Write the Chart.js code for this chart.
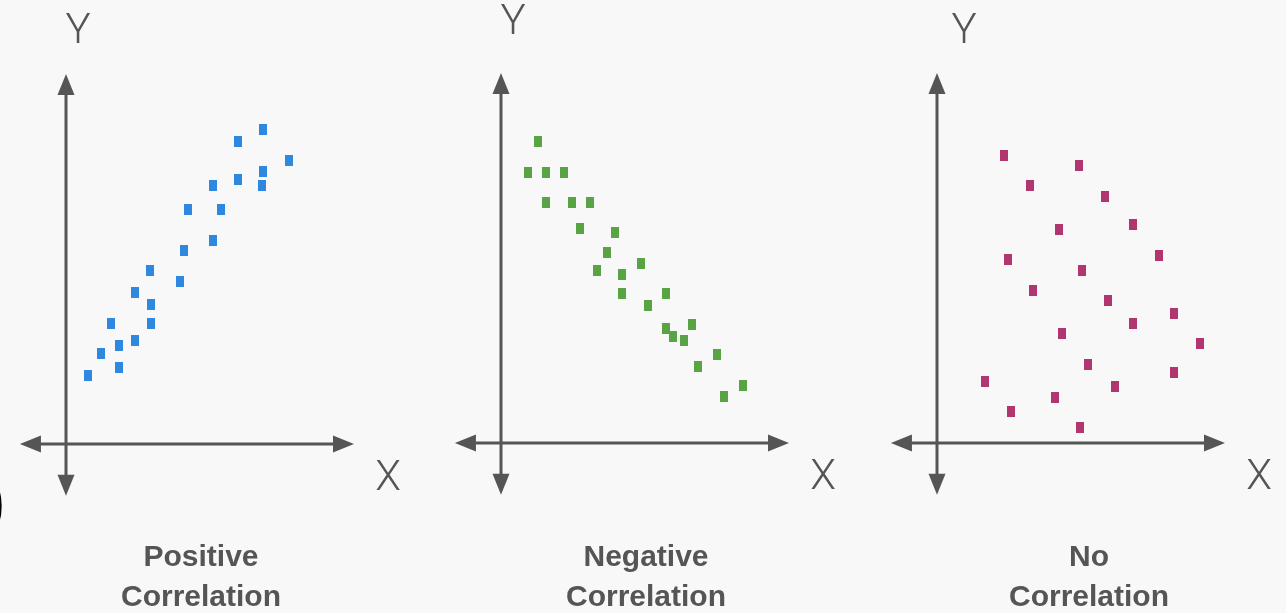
<!DOCTYPE html>
<html>
<head>
<meta charset="utf-8">
<title>Scatter Plots: Types of Correlation</title>
<script src="https://cdn.jsdelivr.net/npm/chart.js@4.4.1/dist/chart.umd.min.js"></script>
<style>
  html, body { margin: 0; padding: 0; background: #f8f8f8; }
  body { width: 1286px; height: 613px; position: relative; overflow: hidden; }
  canvas.panel { position: absolute; left: 0; top: 0; }
  .edge-mark {
    position: absolute; left: -17px; top: 462px; line-height: 1;
    font: 700 66px "Liberation Sans", Arial, sans-serif; color: #000;
  }
</style>
</head>
<body>
<span class="edge-mark">)</span>
<canvas id="c1" class="panel" width="1286" height="613"></canvas>
<canvas id="c2" class="panel" width="1286" height="613"></canvas>
<canvas id="c3" class="panel" width="1286" height="613"></canvas>
<script>
// Positive correlation
const positiveX = [6.85, 5.96, 7.73, 6.85, 5.96, 6.80, 5.11, 4.25, 5.38, 5.11, 4.10,
                   2.92, 3.96, 2.41, 2.94, 1.55, 2.94, 2.41, 1.83, 1.22, 1.83, 0.77];
const positiveY = [8.49, 8.17, 7.66, 7.36, 7.14, 6.98, 6.98, 6.34, 6.34, 5.51, 5.22,
                   4.69, 4.39, 4.09, 3.78, 3.25, 3.25, 2.81, 2.66, 2.44, 2.06, 1.84];

// Negative correlation
const negativeX = [1.30, 0.95, 1.57, 2.19, 1.57, 2.47, 3.08, 2.73, 3.96, 3.69, 4.85, 3.34,
                   4.20, 4.20, 5.73, 5.09, 5.73, 6.62, 5.98, 6.35, 7.49, 6.85, 8.39, 7.74];
const negativeY = [8.16, 7.32, 7.32, 7.32, 6.51, 6.51, 6.51, 5.79, 5.68, 5.15, 4.86, 4.67,
                   4.55, 4.03, 4.03, 3.72, 3.10, 3.21, 2.89, 2.78, 2.38, 2.08, 1.55, 1.25];

// No correlation
const noneX = [2.34, 4.93, 3.22, 5.82, 4.24, 6.82, 7.70, 2.45, 5.05, 3.33, 5.94,
               8.24, 6.82, 4.35, 9.12, 5.23, 8.24, 1.68, 6.19, 4.09, 2.56, 4.97];
const noneY = [7.78, 7.49, 6.95, 6.66, 5.78, 5.90, 5.08, 4.96, 4.67, 4.13, 3.84,
               3.51, 3.22, 2.95, 2.68, 2.13, 1.91, 1.67, 1.54, 1.24, 0.85, 0.42];

const panelTitles = [["Positive", "Correlation"], ["Negative", "Correlation"], ["No", "Correlation"]];
const axisNames = { x: "X", y: "Y" };

// Axis extents in data units (arrow tip to arrow tip)
const X_MIN = -1.6, X_MAX = 10, Y_MIN = -1.4, Y_MAX = 10;
const PX_PER_X = 28.8, PX_PER_Y = 37;
const AXIS_COLOR = "#555555";

// Small upright rectangle used as the marker
function marker(color) {
  const c = document.createElement("canvas");
  c.width = 8; c.height = 11;
  const g = c.getContext("2d");
  g.fillStyle = color;
  g.fillRect(0, 0, 8, 11);
  return c;
}

function arrowHead(ctx, x, y, dir) {
  // dir: unit vector the arrow points toward
  const len = 21, half = 8.5;
  const bx = x - dir[0] * len, by = y - dir[1] * len;
  const px = -dir[1], py = dir[0];
  ctx.beginPath();
  ctx.moveTo(x, y);
  ctx.lineTo(bx + px * half, by + py * half);
  ctx.lineTo(bx - px * half, by - py * half);
  ctx.closePath();
  ctx.fill();
}

// Draws the cross of arrows through the origin, the axis letters and the caption
const crossAxes = {
  id: "crossAxes",
  beforeDatasetsDraw(chart, args, opts) {
    const { ctx } = chart;
    const xs = chart.scales.x, ys = chart.scales.y;
    const ox = xs.getPixelForValue(0), oy = ys.getPixelForValue(0);
    const left = xs.getPixelForValue(X_MIN), right = xs.getPixelForValue(X_MAX);
    const top = ys.getPixelForValue(Y_MAX), bottom = ys.getPixelForValue(Y_MIN);
    ctx.save();
    ctx.strokeStyle = AXIS_COLOR;
    ctx.fillStyle = AXIS_COLOR;
    ctx.lineWidth = 3;
    ctx.beginPath();
    ctx.moveTo(left + 12, oy); ctx.lineTo(right - 12, oy);
    ctx.moveTo(ox, top + 12); ctx.lineTo(ox, bottom - 12);
    ctx.stroke();
    arrowHead(ctx, right, oy, [1, 0]);
    arrowHead(ctx, left, oy, [-1, 0]);
    arrowHead(ctx, ox, top, [0, -1]);
    arrowHead(ctx, ox, bottom, [0, 1]);

    ctx.textAlign = "center";
    ctx.textBaseline = "middle";
    ctx.font = '300 42px Roboto, "Liberation Sans", sans-serif';
    ctx.fillText(axisNames.y, ox + opts.yLabelDx, opts.yLabelY);
    ctx.fillText(axisNames.x, right + 34, oy + 35);

    ctx.textBaseline = "alphabetic";
    ctx.font = 'bold 30px "Liberation Sans", Arial, sans-serif';
    ctx.fillText(opts.title[0], opts.titleX, 566);
    ctx.fillText(opts.title[1], opts.titleX, 606);
    ctx.restore();
  }
};

function makePanel(id, xs, ys, color, originX, originY, title, titleX, yLabelDx, yLabelY) {
  const areaLeft = originX + X_MIN * PX_PER_X;
  const areaRight = originX + X_MAX * PX_PER_X;
  const areaTop = originY - Y_MAX * PX_PER_Y;
  const areaBottom = originY - Y_MIN * PX_PER_Y;
  const points = xs.map((x, i) => ({ x: x, y: ys[i] }));
  new Chart(document.getElementById(id), {
    type: "scatter",
    data: {
      datasets: [{
        data: points,
        pointStyle: marker(color),
        backgroundColor: color,
        borderColor: color
      }]
    },
    options: {
      responsive: false,
      animation: false,
      events: [],
      layout: {
        padding: {
          left: areaLeft,
          right: 1286 - areaRight,
          top: areaTop,
          bottom: 613 - areaBottom
        }
      },
      scales: {
        x: { type: "linear", min: X_MIN, max: X_MAX, display: false },
        y: { type: "linear", min: Y_MIN, max: Y_MAX, display: false }
      },
      plugins: {
        legend: { display: false },
        tooltip: { enabled: false },
        crossAxes: { title: title, titleX: titleX, yLabelDx: yLabelDx, yLabelY: yLabelY }
      }
    },
    plugins: [crossAxes]
  });
}

makePanel("c1", positiveX, positiveY, "#2f88e0", 66, 444, panelTitles[0], 201, 12, 32);
makePanel("c2", negativeX, negativeY, "#58a444", 501, 443, panelTitles[1], 646, 12, 23);
makePanel("c3", noneX, noneY, "#b1366f", 937, 443, panelTitles[2], 1089, 27, 32);
</script>
</body>
</html>
